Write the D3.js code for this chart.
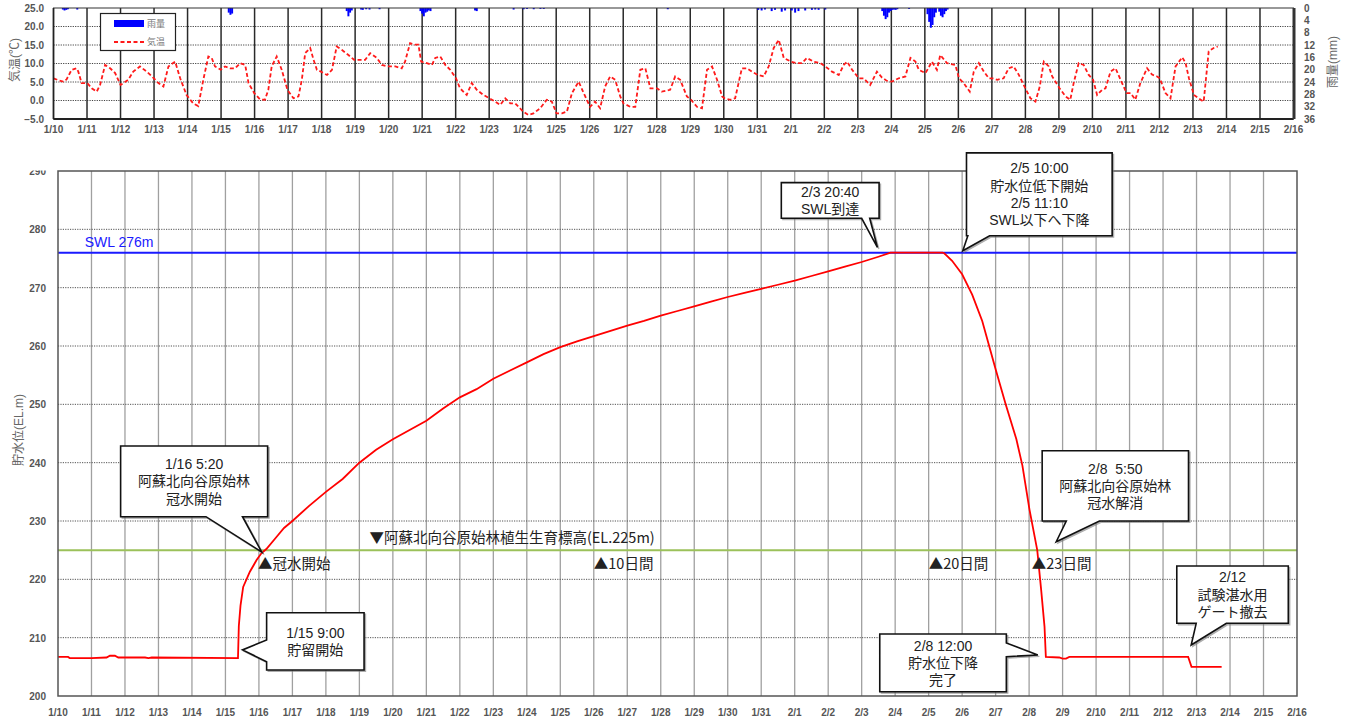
<!DOCTYPE html>
<html><head><meta charset="utf-8">
<script src="https://cdn.jsdelivr.net/npm/d3@7"></script>
<style>body{margin:0;background:#fff;} svg{display:block;}</style>
</head><body><svg id="c" width="1351" height="722"></svg>
<script>
// ---------- DATA ----------
const dayLabels = ["1/10","1/11","1/12","1/13","1/14","1/15","1/16","1/17","1/18","1/19","1/20","1/21","1/22","1/23","1/24","1/25","1/26","1/27","1/28","1/29","1/30","1/31","2/1","2/2","2/3","2/4","2/5","2/6","2/7","2/8","2/9","2/10","2/11","2/12","2/13","2/14","2/15","2/16"];
const tempTicks = [-5,0,5,10,15,20,25];
const rainTicks = [0,4,8,12,16,20,24,28,32,36];
const levelTicks = [200,210,220,230,240,250,260,270,280,290];

// temperature (deg C), days since 1/10 0:00
const tempDays = [0,0.14,0.29,0.39,0.54,0.69,0.74,0.84,1.01,1.14,1.29,1.39,1.54,1.69,1.84,2.0,2.23,2.38,2.58,2.78,2.94,3.13,3.28,3.43,3.63,3.78,3.97,4.17,4.32,4.47,4.62,4.72,4.82,4.99,5.12,5.27,5.42,5.57,5.72,5.82,5.99,6.16,6.31,6.41,6.51,6.66,6.81,6.98,7.16,7.31,7.41,7.51,7.66,7.76,7.86,7.98,8.16,8.31,8.45,8.6,8.8,8.97,9.15,9.3,9.45,9.65,9.8,9.97,10.2,10.39,10.49,10.64,10.79,10.89,10.97,11.14,11.29,11.39,11.54,11.69,11.84,12.01,12.13,12.33,12.48,12.63,12.83,13.01,13.18,13.33,13.48,13.63,13.78,13.92,14.01,14.17,14.32,14.52,14.72,14.87,15.01,15.17,15.32,15.47,15.67,15.82,16.01,16.16,16.31,16.46,16.61,16.76,16.91,17.01,17.21,17.36,17.51,17.66,17.81,18.01,18.15,18.4,18.55,18.7,18.9,19.02,19.2,19.35,19.5,19.65,19.8,19.95,20.02,20.2,20.34,20.54,20.69,20.84,21.02,21.19,21.34,21.49,21.64,21.79,22.01,22.18,22.33,22.48,22.68,22.88,23.03,23.23,23.43,23.58,23.68,23.83,24.03,24.17,24.37,24.57,24.72,24.85,25.02,25.22,25.42,25.57,25.72,25.82,26.02,26.21,26.36,26.46,26.66,26.91,27.02,27.16,27.34,27.46,27.61,27.76,27.91,28.02,28.16,28.35,28.5,28.65,28.8,29.02,29.15,29.3,29.43,29.55,29.7,29.8,30.02,30.2,30.34,30.44,30.59,30.74,30.89,31.02,31.14,31.29,31.39,31.54,31.69,31.84,32.02,32.14,32.28,32.43,32.63,32.78,32.93,33.01,33.18,33.33,33.48,33.68,33.78,33.88,34.03,34.17,34.32,34.47,34.62,34.74];
const tempValues = [6.0,5.5,5.1,5.7,8.3,8.7,7.8,4.7,4.7,3.3,2.4,4.2,9.6,8.7,7.4,4.2,5.6,7.8,9.2,7.8,6.5,4.7,3.8,9.2,10.5,6.0,1.5,-0.8,-1.5,5.6,11.9,11.5,9.2,8.3,9.2,8.7,8.7,10.1,9.6,4.7,2.0,0.3,0.2,2.9,9.2,11.9,8.3,2.9,0.6,1.1,5.6,12.8,14.2,11.0,8.3,7.8,6.9,8.3,14.6,13.7,12.3,11.0,11.0,11.0,12.8,11.5,9.6,9.2,9.2,8.7,10.5,15.5,15.1,15.1,10.5,10.1,9.6,11.5,11.9,9.6,8.3,6.0,3.3,1.5,4.7,2.9,1.5,0.6,-0.3,-1.2,0.6,-0.8,-0.8,-2.1,-3.0,-3.9,-3.5,-2.1,0.2,-0.3,-3.5,-3.5,-3.0,2.0,5.1,2.0,-1.7,-0.3,-2.1,3.8,6.5,5.6,1.1,-0.8,-1.7,-1.7,8.3,8.7,3.3,3.3,2.4,2.9,6.5,5.6,1.1,0.2,-1.7,-2.1,8.3,9.2,5.6,1.1,0.6,0.2,0.6,8.7,8.7,7.8,6.9,6.5,9.2,14.2,16.4,11.5,10.5,10.1,10.1,11.5,10.5,10.1,9.2,7.8,6.9,9.6,10.5,8.3,6.0,6.0,4.2,7.8,6.2,5.4,5.1,6.0,6.5,11.5,10.5,8.3,7.4,10.5,8.3,12.3,10.1,9.6,6.0,4.7,2.4,7.8,10.1,7.8,6.0,6.0,5.6,6.0,8.7,9.2,7.0,2.9,0.6,-0.3,3.8,10.5,9.2,6.5,3.3,1.1,0.2,4.7,10.1,9.6,6.9,5.6,1.5,2.9,3.3,7.8,8.7,5.6,2.0,2.0,0.2,4.7,8.7,7.0,6.5,6.0,2.0,0.6,9.2,11.7,10.1,6.0,1.5,0.6,-0.3,13.3,14.2,14.6];

// rainfall (mm) per ~1.2 h, days since 1/10
const rainDays = [0.25,0.3,0.35,0.4,0.68,5.2,5.25,5.3,8.72,8.77,8.82,8.87,9.15,9.2,9.3,9.4,9.7,10.92,10.97,11.02,11.07,11.12,11.17,11.22,12.55,12.6,13.7,14.0,14.1,14.3,14.5,14.6,18.3,21.0,21.1,21.2,21.4,21.5,21.7,21.8,22.0,22.1,22.2,22.4,22.6,22.7,22.8,23.0,24.7,24.75,24.8,24.85,24.9,24.95,25.0,25.05,25.1,25.15,25.5,26.05,26.1,26.15,26.2,26.25,26.3,26.4,26.45,26.5,26.55,26.6,26.65];
const rainMm = [0.5,0.8,0.6,0.4,0.5,1.5,2.2,1.8,1.0,2.7,1.5,0.8,0.5,0.6,0.4,0.5,0.4,1.0,1.8,2.7,1.5,1.2,0.8,1.0,0.8,1.0,0.5,0.4,0.3,0.4,0.3,0.3,0.4,0.6,0.8,0.5,1.0,0.6,1.2,0.8,0.8,1.5,1.0,0.8,0.6,0.5,0.6,0.5,1.0,2.5,3.6,3.0,1.5,1.0,0.6,0.5,0.6,0.4,0.3,2.0,4.5,6.4,5.5,3.0,1.5,1.2,2.5,3.0,2.0,1.0,0.5];

// reservoir water level (EL.m), days since 1/10
const levelDays = [0,0.3,0.35,1.0,1.45,1.55,1.7,1.8,2.6,2.7,2.8,5.375,5.40,5.45,5.53,5.73,5.93,6.08,6.222,6.53,6.75,7,7.5,8,8.5,9,9.5,10,10.5,11,11.5,12,12.5,13,13.5,14,14.5,15,15.5,16,16.5,17,17.5,18,18.5,19,19.5,20,20.5,21,21.5,22,22.5,23,23.5,24,24.5,24.861,26.417,26.465,26.7,27.0,27.3,27.6,28.0,28.3,28.62,28.8,29.01,29.243,29.36,29.46,29.5,29.9,30.0,30.1,30.2,33.75,33.85,34.75];
const levelValues = [206.7,206.7,206.5,206.5,206.6,206.9,206.9,206.6,206.6,206.5,206.6,206.5,212,215.5,218.7,221.3,223.3,224.5,225.2,227.3,228.8,230,232.6,235,237.2,240,242.2,244,245.6,247.2,249.3,251.2,252.6,254.4,255.8,257.2,258.6,259.8,260.8,261.7,262.6,263.5,264.3,265.2,266,266.8,267.6,268.4,269.1,269.8,270.5,271.2,272,272.8,273.6,274.4,275.3,276,276,275.9,274.6,272.3,268.8,264.3,256,250,244,239.5,232,225,218.2,211.9,206.7,206.6,206.4,206.4,206.7,206.7,205,205];

const swlLevel = 276;
const forestLevel = 225;

// ---------- SETUP ----------
const svg = d3.select('#c');
const NUM = '"Liberation Sans", Arial, sans-serif';
const JP = '"Liberation Sans", "Noto Sans CJK JP", sans-serif';
const JPF = '"Noto Sans CJK JP", sans-serif';
const nDays = dayLabels.length - 1;

// ========== TOP CHART ==========
const xT = d3.scaleLinear().domain([0, nDays]).range([53.5, 1293.5]);
const yT = d3.scaleLinear().domain([-5, 25]).range([119, 8]);
const yR = d3.scaleLinear().domain([0, 36]).range([8, 119]);
const topG = svg.append('g');

topG.selectAll('.hg').data(tempTicks.slice(1, -1)).join('line')
  .attr('x1', xT(0)).attr('x2', xT(nDays))
  .attr('y1', d => yT(d)).attr('y2', d => yT(d))
  .attr('stroke', '#444').attr('stroke-width', 1).attr('stroke-dasharray', '1.2,1.2');
topG.selectAll('.vg').data(d3.range(1, nDays)).join('line')
  .attr('x1', d => xT(d)).attr('x2', d => xT(d))
  .attr('y1', yT(25)).attr('y2', yT(-5))
  .attr('stroke', '#2a2a2a').attr('stroke-width', 1.5);

const barW = xT(0.05) - xT(0);
topG.selectAll('.rain').data(rainDays).join('rect')
  .attr('x', d => xT(d)).attr('y', yR(0))
  .attr('width', barW + 0.3)
  .attr('height', (d, i) => yR(rainMm[i]) - yR(0))
  .attr('fill', '#0000ff');

const tLine = d3.line().x((d, i) => xT(tempDays[i])).y(d => yT(d));
topG.append('path').datum(tempValues).attr('d', tLine)
  .attr('fill', 'none').attr('stroke', '#ff1a1a').attr('stroke-width', 1.8)
  .attr('stroke-dasharray', '4,2.5');

topG.append('rect').attr('x', xT(0)).attr('y', yT(25))
  .attr('width', xT(nDays) - xT(0)).attr('height', yT(-5) - yT(25))
  .attr('fill', 'none').attr('stroke', '#333').attr('stroke-width', 1);
topG.append('line').attr('x1', xT(0)).attr('x2', xT(nDays)).attr('y1', yT(-5)).attr('y2', yT(-5))
  .attr('stroke', '#222').attr('stroke-width', 1.8);
topG.append('line').attr('x1', xT(0)).attr('x2', xT(0)).attr('y1', yT(25)).attr('y2', yT(-5))
  .attr('stroke', '#222').attr('stroke-width', 1.8);
topG.append('line').attr('x1', xT(nDays) + 0.5).attr('x2', xT(nDays) + 0.5).attr('y1', yT(25)).attr('y2', yT(-5))
  .attr('stroke', '#333').attr('stroke-width', 3);

topG.selectAll('.tl').data(tempTicks).join('text')
  .attr('x', 44).attr('y', d => yT(d) + 3.5).attr('text-anchor', 'end')
  .attr('font-family', NUM).attr('font-size', 10).attr('font-weight', 'bold').attr('fill', '#555')
  .text(d => d3.format('.1f')(d));
topG.selectAll('.rl').data(rainTicks).join('text')
  .attr('x', 1304).attr('y', d => yR(d) + 3.5)
  .attr('font-family', NUM).attr('font-size', 10).attr('font-weight', 'bold').attr('fill', '#555')
  .text(d => d);
topG.selectAll('.xl').data(dayLabels).join('text')
  .attr('x', (d, i) => xT(i)).attr('y', 132.5).attr('text-anchor', 'middle')
  .attr('font-family', NUM).attr('font-size', 10).attr('font-weight', 'bold').attr('fill', '#555')
  .text(d => d);
topG.append('text').attr('transform', 'translate(19,60) rotate(-90)').attr('text-anchor', 'middle')
  .attr('font-family', JP).attr('font-size', 12).attr('fill', '#666').text('気温(℃)');
topG.append('text').attr('transform', 'translate(1337,62) rotate(-90)').attr('text-anchor', 'middle')
  .attr('font-family', JP).attr('font-size', 12).attr('fill', '#666').text('雨量(mm)');

const lg = topG.append('g');
lg.append('rect').attr('x', 100.5).attr('y', 13.5).attr('width', 75).attr('height', 37)
  .attr('fill', '#fff').attr('stroke', '#222').attr('stroke-width', 1.2);
lg.append('rect').attr('x', 114).attr('y', 20).attr('width', 30).attr('height', 7).attr('fill', '#0000ff');
lg.append('text').attr('x', 147).attr('y', 27).attr('font-family', JP).attr('font-size', 9).attr('fill', '#777').text('雨量');
lg.append('line').attr('x1', 114).attr('x2', 145).attr('y1', 42).attr('y2', 42)
  .attr('stroke', '#ff1a1a').attr('stroke-width', 1.8).attr('stroke-dasharray', '4,2.5');
lg.append('text').attr('x', 147).attr('y', 45).attr('font-family', JP).attr('font-size', 9).attr('fill', '#777').text('気温');

// ========== BOTTOM CHART ==========
const xB = d3.scaleLinear().domain([0, nDays]).range([58, 1297]);
const yB = d3.scaleLinear().domain([200, 290]).range([696, 171]);
const botG = svg.append('g');

botG.selectAll('.vg').data(d3.range(1, nDays)).join('line')
  .attr('x1', d => xB(d)).attr('x2', d => xB(d))
  .attr('y1', yB(290)).attr('y2', yB(200))
  .attr('stroke', '#a0a0a0').attr('stroke-width', 1.3);
botG.selectAll('.hg').data(levelTicks.slice(1, -1)).join('line')
  .attr('x1', xB(0)).attr('x2', xB(nDays))
  .attr('y1', d => yB(d)).attr('y2', d => yB(d))
  .attr('stroke', '#555').attr('stroke-width', 1).attr('stroke-dasharray', '1.2,1.2');

botG.append('line').attr('x1', xB(0)).attr('x2', xB(nDays))
  .attr('y1', yB(forestLevel)).attr('y2', yB(forestLevel))
  .attr('stroke', '#9bc15a').attr('stroke-width', 2);
botG.append('line').attr('x1', xB(0)).attr('x2', xB(nDays))
  .attr('y1', yB(swlLevel)).attr('y2', yB(swlLevel))
  .attr('stroke', '#1a1aff').attr('stroke-width', 2);

const lLine = d3.line().x((d, i) => xB(levelDays[i])).y(d => yB(d));
botG.append('path').datum(levelValues).attr('d', lLine)
  .attr('fill', 'none').attr('stroke', '#ff0000').attr('stroke-width', 1.8);

botG.append('rect').attr('x', xB(0)).attr('y', yB(290))
  .attr('width', xB(nDays) - xB(0)).attr('height', yB(200) - yB(290))
  .attr('fill', 'none').attr('stroke', '#555').attr('stroke-width', 1.5);

svg.append('clipPath').attr('id', 'yclip').append('rect').attr('x', 0).attr('y', 170.5).attr('width', 60).attr('height', 560);
botG.append('g').attr('clip-path', 'url(#yclip)').selectAll('text').data(levelTicks).join('text')
  .attr('x', 46).attr('y', d => yB(d) + 4).attr('text-anchor', 'end')
  .attr('font-family', NUM).attr('font-size', 10).attr('font-weight', 'bold').attr('fill', '#555')
  .text(d => d);
botG.selectAll('.xl').data(dayLabels).join('text')
  .attr('x', (d, i) => xB(i)).attr('y', 715.5).attr('text-anchor', 'middle')
  .attr('font-family', NUM).attr('font-size', 10).attr('font-weight', 'bold').attr('fill', '#555')
  .text(d => d);
botG.append('text').attr('transform', 'translate(23,430) rotate(-90)').attr('text-anchor', 'middle')
  .attr('font-family', JP).attr('font-size', 12).attr('fill', '#666').text('貯水位(EL.m)');

botG.append('text').attr('x', xB(0.8)).attr('y', yB(swlLevel) - 11).attr('dominant-baseline', 'central')
  .attr('font-family', NUM).attr('font-size', 14).attr('fill', '#1a1aff').text('SWL 276m');
const marks = [
  {d: 9.3, v: 227.4, t: '▼阿蘇北向谷原始林植生生育標高(EL.225m)'},
  {d: 5.97, v: 222.9, t: '▲冠水開始'},
  {d: 16.0, v: 222.9, t: '▲10日間'},
  {d: 26.0, v: 222.9, t: '▲20日間'},
  {d: 29.08, v: 222.9, t: '▲23日間'}
];
botG.selectAll('.mk').data(marks).join('text')
  .attr('x', d => xB(d.d)).attr('y', d => yB(d.v)).attr('dominant-baseline', 'central')
  .attr('font-family', JPF).attr('font-size', 14.5).attr('fill', '#222').text(d => d.t);

const callouts = [
  {x1: 1.87, x2: 6.26, y1: 242.86, y2: 230.74, side: 'bottom', b1: 4.42, b2: 5.51, tip: [6.08, 224.7],
   lines: ['1/16 5:20', '阿蘇北向谷原始林', '冠水開始']},
  {x1: 6.23, x2: 9.14, y1: 214.28, y2: 204.46, side: 'left', b1: 209.6, b2: 205.88, tip: [5.51, 207.9],
   lines: ['1/15 9:00', '貯留開始']},
  {x1: 21.6, x2: 24.52, y1: 288.0, y2: 281.9, side: 'bottom', b1: 24.0, b2: 24.24, tip: [24.47, 276.9],
   lines: ['2/3 20:40', 'SWL到達']},
  {x1: 27.13, x2: 31.48, y1: 293.1, y2: 278.9, side: 'bottom', b1: 27.17, b2: 27.82, tip: [27.02, 276.34],
   lines: ['2/5 10:00', '貯水位低下開始', '2/5 11:10', 'SWL以下へ下降']},
  {x1: 29.39, x2: 33.76, y1: 242.05, y2: 230.0, side: 'bottom', b1: 30.11, b2: 31.1, tip: [29.81, 226.45],
   lines: ['2/8  5:50', '阿蘇北向谷原始林', '冠水解消']},
  {x1: 33.41, x2: 36.74, y1: 222.29, y2: 212.46, side: 'bottom', b1: 33.99, b2: 34.89, tip: [33.84, 208.74],
   lines: ['2/12', '試験湛水用', 'ゲート撤去']},
  {x1: 24.54, x2: 28.32, y1: 210.63, y2: 200.74, side: 'right', b1: 209.09, b2: 206.74, tip: [29.26, 207.03],
   lines: ['2/8 12:00', '貯水位下降', '完了']}
];
function calloutPath(c) {
  const X1 = xB(c.x1), X2 = xB(c.x2), Y1 = yB(c.y1), Y2 = yB(c.y2);
  const tx = xB(c.tip[0]), ty = yB(c.tip[1]);
  const p = d3.path();
  p.moveTo(X1, Y1); p.lineTo(X2, Y1);
  if (c.side === 'right') {
    p.lineTo(X2, yB(c.b1)); p.lineTo(tx, ty); p.lineTo(X2, yB(c.b2));
  }
  p.lineTo(X2, Y2);
  if (c.side === 'bottom') {
    p.lineTo(xB(c.b2), Y2); p.lineTo(tx, ty); p.lineTo(xB(c.b1), Y2);
  }
  p.lineTo(X1, Y2);
  if (c.side === 'left') {
    p.lineTo(X1, yB(c.b2)); p.lineTo(tx, ty); p.lineTo(X1, yB(c.b1));
  }
  p.closePath();
  return p.toString();
}
const cg = botG.selectAll('.co').data(callouts).join('g');
cg.append('path').attr('d', calloutPath).attr('transform', 'translate(1.5,1.5)')
  .attr('fill', '#777').attr('stroke', '#777').attr('stroke-width', 1.2).attr('opacity', 0.6);
cg.append('path').attr('d', calloutPath)
  .attr('fill', '#fff').attr('stroke', '#111').attr('stroke-width', 1.6).attr('stroke-linejoin', 'miter');
cg.each(function(c) {
  const cx = (xB(c.x1) + xB(c.x2)) / 2;
  const cy = (yB(c.y1) + yB(c.y2)) / 2;
  const lh = 17.3;
  const n = c.lines.length;
  d3.select(this).selectAll('text').data(c.lines).join('text')
    .attr('x', cx).attr('y', (d, i) => cy + (i - (n - 1) / 2) * lh)
    .attr('text-anchor', 'middle').attr('dominant-baseline', 'central')
    .attr('font-family', JP).attr('font-size', 14).attr('fill', '#222')
    .style('white-space', 'pre').text(d => d);
});
</script>
</body></html>
